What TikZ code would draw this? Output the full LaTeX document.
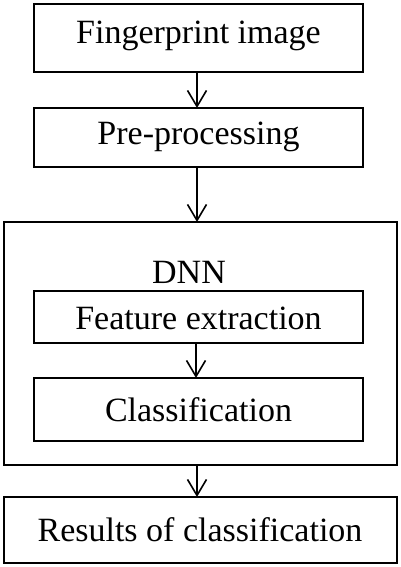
\documentclass[tikz,border=0pt]{standalone}
\usepackage{fontspec}
\setmainfont{Liberation Serif}
\usetikzlibrary{arrows.meta}
\begin{document}
\begin{tikzpicture}[x=1pt,y=-1pt,
  boxstyle/.style={draw=black,line width=2pt,fill=white},
  flow/.style={draw=black,line width=1.6pt,-{Straight Barb[length=16pt,width=19pt,line width=1.6pt]}},
  lbl/.style={font=\fontsize{34}{38}\selectfont,text=black}]
\useasboundingbox (0,0) rectangle (400,567);
% boxes
\draw[boxstyle] (34,4) rectangle (363,72);
\node[lbl] (t1) at (198.5,36) {Fingerprint image};
\draw[boxstyle] (34,108) rectangle (363,167);
\node[lbl] (t2) at (198.5,137) {Pre-processing};
\draw[boxstyle] (4,222) rectangle (397,465);
\node[lbl] (dnn) at (189,272) {DNN};
\draw[boxstyle] (34,291) rectangle (363,343);
\node[lbl] (t3) at (198.5,318) {Feature extraction};
\draw[boxstyle] (34,378) rectangle (363,441);
\node[lbl] (t4) at (198.5,410) {Classification};
\draw[boxstyle] (4,497) rectangle (397,563);
\node[lbl] (t5) at (200,530) {Results of classification};
% named anchors for connectors
\coordinate (b1s) at (197,72);
\coordinate (b2n) at (197,108);
\coordinate (b2s) at (197,167);
\coordinate (dnnN) at (197,222);
\coordinate (b3s) at (196,343);
\coordinate (b4n) at (196,378);
\coordinate (dnnS) at (197,465);
\coordinate (b5n) at (197,497);
\draw[flow] (b1s) -- (b2n);
\draw[flow] (b2s) -- (dnnN);
\draw[flow] (b3s) -- (b4n);
\draw[flow] (dnnS) -- (b5n);
\end{tikzpicture}
\end{document}
